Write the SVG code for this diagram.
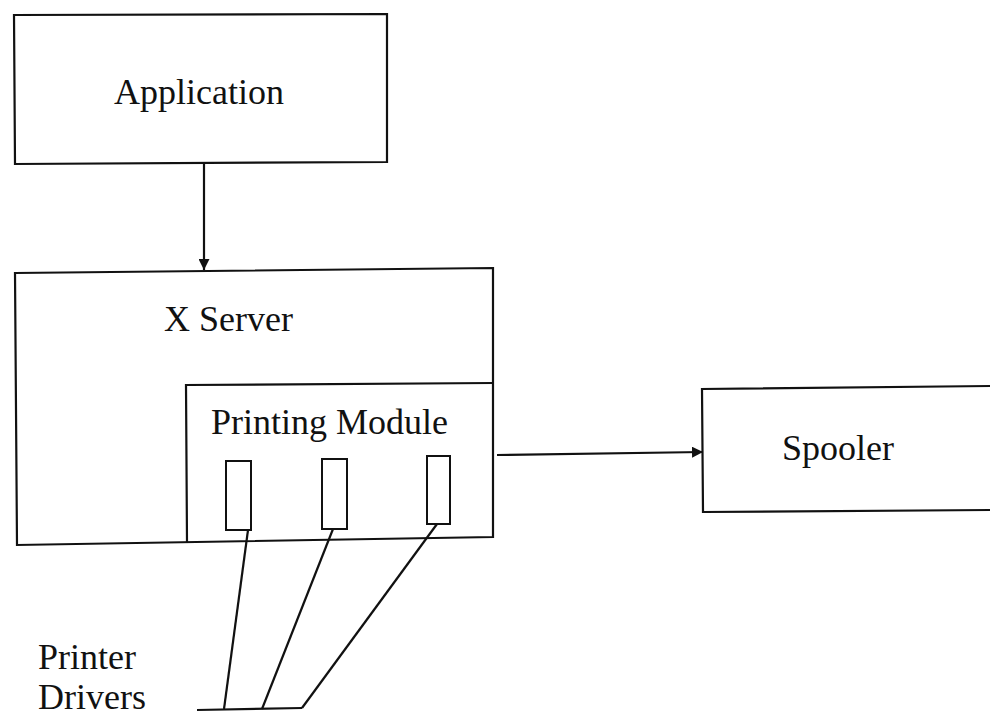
<svg xmlns="http://www.w3.org/2000/svg" width="990" height="718" viewBox="0 0 990 718">
  <style>
    .box { fill: none; stroke: #111; stroke-width: 2.2; }
    .drv { fill: none; stroke: #111; stroke-width: 2; }
    .wire { fill: none; stroke: #111; stroke-width: 2.2; }
    .lbl { font-family: "Liberation Serif", "Times New Roman", serif; font-size: 36px; fill: #111; }
  </style>
  <defs>
    <marker id="head" viewBox="0 0 10 10" refX="10" refY="5" markerWidth="11" markerHeight="11" markerUnits="userSpaceOnUse" orient="auto">
      <path d="M0,0 L10,5 L0,10 z" fill="#111"/>
    </marker>
  </defs>
  <rect width="990" height="718" fill="#fff"/>

  <g id="application">
    <polygon class="box" points="14,15 387,14 387,162 15,164"/>
    <text class="lbl" x="114" y="104">Application</text>
  </g>

  <g id="x-server">
    <polygon class="box" points="15,273 493,268 493,537 17,545"/>
    <text class="lbl" x="164" y="331">X Server</text>
  </g>

  <g id="printing-module">
    <polyline class="box" points="187,542 186,385 493,383"/>
    <text class="lbl" x="211" y="434">Printing Module</text>
    <rect class="drv" x="226" y="461" width="25" height="69"/>
    <rect class="drv" x="322" y="459" width="25" height="70"/>
    <rect class="drv" x="427" y="456" width="23" height="68"/>
  </g>

  <g id="spooler">
    <polyline class="box" points="992,386 702,389 703,512 992,510"/>
    <text class="lbl" x="782" y="460">Spooler</text>
  </g>

  <g id="printer-drivers">
    <text class="lbl" x="38" y="669">Printer</text>
    <text class="lbl" x="38" y="709">Drivers</text>
  </g>

  <g id="connectors">
    <line class="wire" x1="204" y1="163" x2="204" y2="270" marker-end="url(#head)"/>
    <line class="wire" x1="497" y1="455" x2="703" y2="452" marker-end="url(#head)"/>
    <line class="wire" x1="248" y1="530" x2="224" y2="709"/>
    <line class="wire" x1="333" y1="529" x2="262" y2="709"/>
    <line class="wire" x1="437" y1="524" x2="302" y2="708"/>
    <line class="wire" x1="197" y1="710" x2="302" y2="708"/>
  </g>
</svg>
